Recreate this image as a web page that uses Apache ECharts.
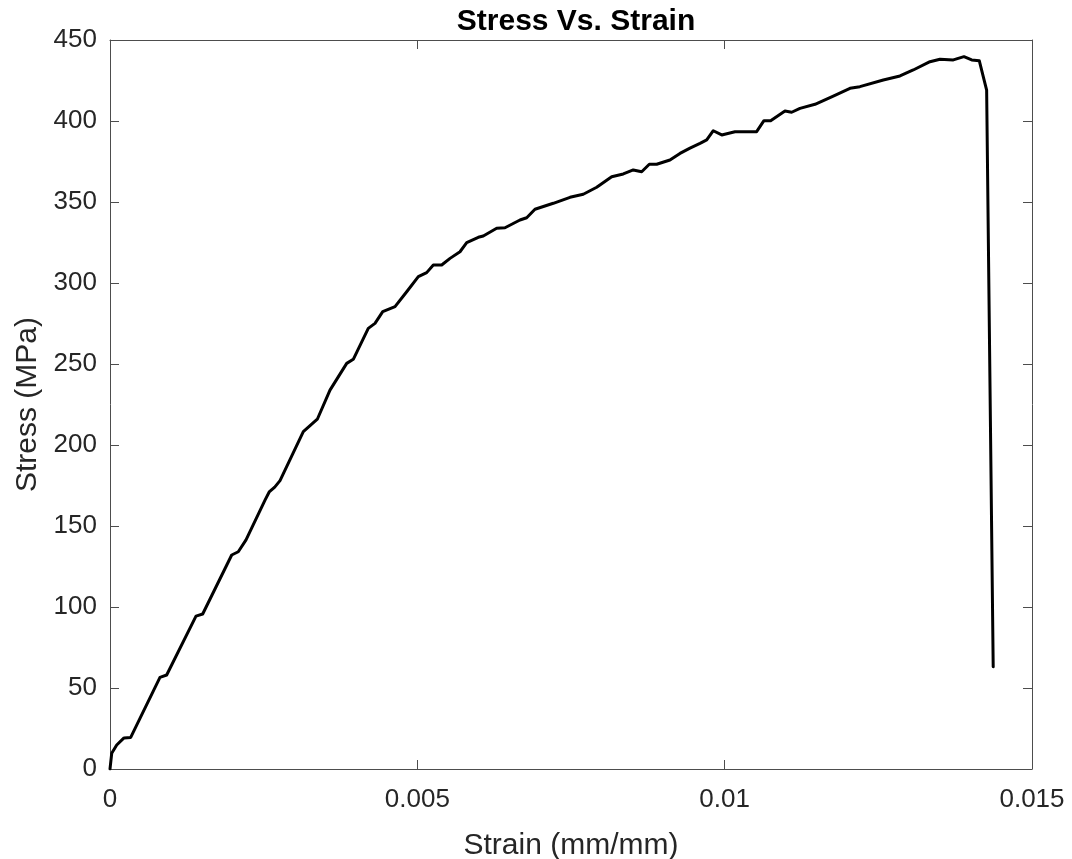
<!DOCTYPE html>
<html>
<head>
<meta charset="utf-8">
<title>Stress Vs. Strain</title>
<script src="https://cdn.jsdelivr.net/npm/echarts@6/dist/echarts.min.js"></script>
<style>
    html, body { margin: 0; padding: 0; background: #fff; }
    #main { width: 1072px; height: 859px; }
</style>
</head>
<body>
<div id="main"></div>
<script>
// strain (mm/mm)
var strain = [
    0, 0.000028, 0.000109, 0.000228, 0.000337, 0.000813, 0.000922, 0.001399, 0.001508,
    0.00198, 0.002087, 0.002213, 0.002522, 0.00259, 0.00268, 0.002766, 0.003145, 0.003373,
    0.003579, 0.003851, 0.003958, 0.004202, 0.004311, 0.004437, 0.004637, 0.004827, 0.005016,
    0.005152, 0.00526, 0.005396, 0.005532, 0.005694, 0.005803, 0.005992, 0.006073, 0.006291,
    0.006426, 0.00667, 0.006779, 0.006914, 0.007212, 0.007484, 0.0077, 0.007918, 0.008162,
    0.008351, 0.008513, 0.00865, 0.008774, 0.008894, 0.00911, 0.009273, 0.009436, 0.009599,
    0.009708, 0.009815, 0.009952, 0.010168, 0.01052, 0.010639, 0.010748, 0.010981, 0.01109,
    0.011225, 0.01147, 0.011767, 0.012039, 0.0122, 0.012581, 0.012852, 0.013068, 0.01334,
    0.013503, 0.01372, 0.013893, 0.014019, 0.014142, 0.014262, 0.014369
];

// stress (MPa)
var stress = [
    0, 9.7, 14.8, 19.2, 19.5, 56.6, 58, 94.4, 95.7,
    132.1, 134.1, 141.4, 166, 171, 174, 178, 208.2, 215.9,
    233.9, 250.4, 252.9, 272, 275.1, 282.3, 285.4, 294.6, 303.9,
    306.4, 311.1, 311.1, 315.2, 319.3, 324.9, 328.2, 329, 333.8,
    334.1, 338.9, 340.3, 345.5, 349.2, 352.9, 354.8, 359.1, 365.6,
    367.3, 369.8, 368.7, 373.3, 373.3, 375.9, 380, 383.3, 386.2,
    388.3, 394, 391.4, 393.4, 393.4, 400.2, 400.2, 406.2, 405.4,
    407.8, 410.3, 415.4, 420.2, 421.2, 425.3, 427.8, 431.5, 436.6,
    438.1, 437.7, 439.7, 437.7, 437.2, 419.1, 63.1
];

var xTicks = [0, 0.005, 0.01, 0.015];
var yTicks = [0, 50, 100, 150, 200, 250, 300, 350, 400, 450];

var font = "'Liberation Sans', Arial, Helvetica, sans-serif";
var axisColor = '#4d4d4d';
var textColor = '#262626';

var points = [];
for (var i = 0; i < strain.length; i++) {
    points.push([strain[i], stress[i]]);
}

var myChart = echarts.init(document.getElementById('main'), null, { renderer: 'canvas' });

// box around the plot, ticks on all four sides pointing in
function makeX(pos, showText) {
    return {
        type: 'value',
        position: pos,
        min: xTicks[0],
        max: xTicks[xTicks.length - 1],
        interval: 0.005,
        splitLine: { show: false },
        axisLine: { show: true, onZero: false, lineStyle: { color: axisColor, width: 1 } },
        axisTick: { show: true, inside: true, length: 9, lineStyle: { color: axisColor, width: 1 } },
        axisLabel: {
            show: showText,
            margin: 18,
            color: textColor,
            fontSize: 26,
            fontFamily: font,
            formatter: function (v) { return String(+v.toFixed(3)); }
        }
    };
}

function makeY(pos, showText) {
    return {
        type: 'value',
        position: pos,
        min: yTicks[0],
        max: yTicks[yTicks.length - 1],
        interval: 50,
        splitLine: { show: false },
        axisLine: { show: true, onZero: false, lineStyle: { color: axisColor, width: 1 } },
        axisTick: { show: true, inside: true, length: 9, lineStyle: { color: axisColor, width: 1 } },
        axisLabel: {
            show: showText,
            margin: 13,
            color: textColor,
            fontSize: 26,
            fontFamily: font
        }
    };
}

var xBottom = makeX('bottom', true);
xBottom.name = 'Strain (mm/mm)';
xBottom.nameLocation = 'middle';
xBottom.nameGap = 62;
xBottom.nameTextStyle = { color: textColor, fontSize: 30, fontFamily: font };

var yLeft = makeY('left', true);
yLeft.name = 'Stress (MPa)';
yLeft.nameLocation = 'middle';
yLeft.nameGap = 66;
yLeft.nameTextStyle = { color: textColor, fontSize: 30, fontFamily: font };

var option = {
    backgroundColor: '#ffffff',
    animation: false,
    title: {
        text: 'Stress Vs. Strain',
        left: 571,
        top: 2,
        textAlign: 'center',
        textStyle: {
            color: '#000',
            fontSize: 30,
            fontWeight: 'bold',
            fontFamily: font
        }
    },
    grid: {
        left: 110,
        right: 40,
        top: 40,
        bottom: 90,
        containLabel: false,
        outerBoundsMode: 'none'
    },
    xAxis: [xBottom, makeX('top', false)],
    yAxis: [yLeft, makeY('right', false)],
    series: [
        {
            name: 'Stress',
            type: 'line',
            xAxisIndex: 0,
            yAxisIndex: 0,
            data: points,
            showSymbol: false,
            smooth: false,
            lineStyle: { color: '#000', width: 3, cap: 'round', join: 'round' }
        }
    ]
};

myChart.setOption(option);
</script>
</body>
</html>
